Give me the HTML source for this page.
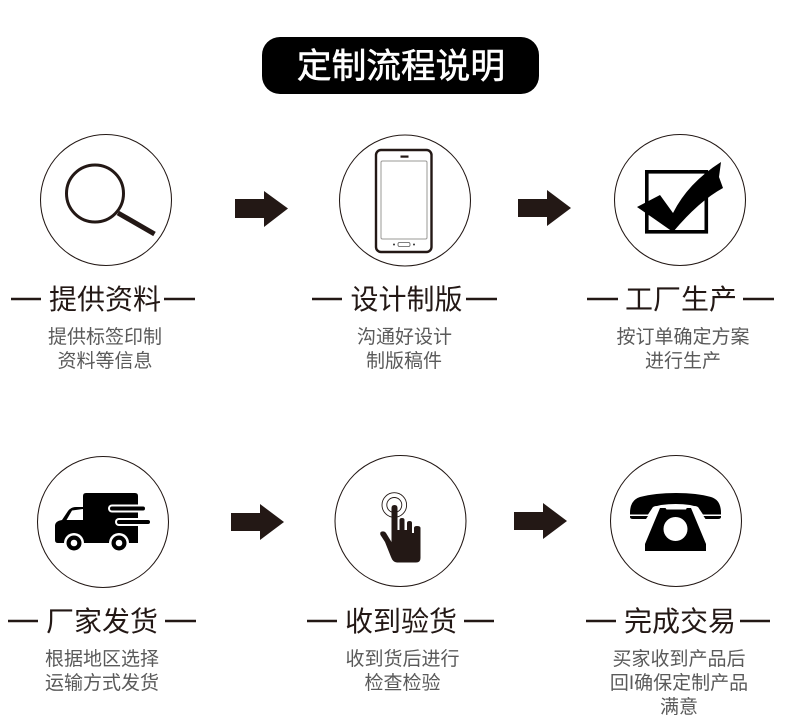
<!DOCTYPE html>
<html><head><meta charset="utf-8"><style>
html,body{margin:0;padding:0;background:#fff}
svg{display:block}
text{font-family:"Liberation Sans","Noto Sans CJK SC",sans-serif;text-anchor:middle}
.h{font-size:28px;fill:#231815;font-weight:400}
.s{font-size:19px;fill:#5a5a5a}
.c{fill:#fff;stroke:#231815;stroke-width:1.05}
.l{stroke:#231815;stroke-width:2.4}
.a{fill:#231815}
</style></head><body>
<svg width="790" height="726" viewBox="0 0 790 726" xmlns="http://www.w3.org/2000/svg">
<rect width="790" height="726" fill="#fff"/>
<rect x="262" y="37" width="277" height="57" rx="18" fill="#000"/>
<text x="401" y="78" font-size="34.7" fill="#fff" stroke="#fff" stroke-width="0.6">定制流程说明</text>

<circle class="c" cx="106" cy="200" r="65.5"/>
<circle class="c" cx="405" cy="200.5" r="65.5"/>
<circle class="c" cx="680" cy="200" r="65.5"/>
<circle class="c" cx="103" cy="522" r="65.5"/>
<circle class="c" cx="400.5" cy="521" r="65.5"/>
<circle class="c" cx="676" cy="521" r="65.5"/>

<polygon class="a" points="235,199 264,199 264,191 288,208.5 264,227 264,218 235,218"/>
<polygon class="a" points="518,199 547,199 547,190 571,208 547,226 547,217 518,217"/>
<polygon class="a" points="231,513 260,513 260,504 284,522 260,540 260,531 231,531"/>
<polygon class="a" points="514,512 543,512 543,503 567,521 543,539 543,530 514,530"/>

<!-- magnifier -->
<circle cx="95" cy="193.5" r="28.5" fill="none" stroke="#231815" stroke-width="3"/>
<line x1="118" y1="213" x2="154.5" y2="234" stroke="#231815" stroke-width="5"/>

<!-- phone -->
<rect x="376" y="150" width="55.5" height="102" rx="5" fill="#fff" stroke="#231815" stroke-width="2.4"/>
<rect x="381" y="161" width="46" height="78" rx="1.5" fill="#fff" stroke="#9a9896" stroke-width="1"/>
<rect x="400.500" y="155.500" width="8" height="2.200" fill="#231815"/>
<rect x="398" y="242.500" width="12" height="4" rx="1.500" fill="#fff" stroke="#555" stroke-width="0.800"/>
<circle cx="394" cy="244.500" r="1" fill="#333"/>
<circle cx="414" cy="244.500" r="1" fill="#333"/>

<!-- check -->
<rect x="646.800" y="171.800" width="59.500" height="60" fill="#fff" stroke="#000" stroke-width="3.600"/>
<path fill="#000" d="M637,207 L660,195 L673,213 Q688,183 721,162 L719,177 L723,188 Q699,201 673,232 L653,218 Z"/>

<!-- truck -->
<path fill="#000" d="M83,496 Q83,493 86,493 H135 Q138,493 138,496 V543 H83 Z"/>
<path fill="#000" d="M83,507 H76 Q71,507 68,511 L62,520 Q55,521 55,526 V540 Q55,543 58,543 H83 Z"/>
<polygon fill="#fff" points="66.500,520 72,510.500 83,509 83,520"/>
<circle cx="74" cy="543" r="10" fill="#fff"/><circle cx="74" cy="543" r="7.500" fill="#000"/><circle cx="74" cy="543" r="3.300" fill="#fff"/>
<circle cx="119" cy="543" r="10" fill="#fff"/><circle cx="119" cy="543" r="7.500" fill="#000"/><circle cx="119" cy="543" r="3.300" fill="#fff"/>
<line x1="112" y1="508.500" x2="143" y2="508.500" stroke="#fff" stroke-width="8" stroke-linecap="round"/>
<line x1="119" y1="522" x2="147" y2="522" stroke="#fff" stroke-width="8" stroke-linecap="round"/>
<line x1="112" y1="508.500" x2="143" y2="508.500" stroke="#000" stroke-width="4" stroke-linecap="round"/>
<line x1="119" y1="522" x2="148" y2="522" stroke="#000" stroke-width="4" stroke-linecap="round"/>

<!-- hand -->
<circle cx="394.300" cy="505" r="12.300" fill="none" stroke="#231815" stroke-width="0.900"/>
<circle cx="394.300" cy="505" r="7.500" fill="none" stroke="#231815" stroke-width="0.900"/>
<path fill="#231815" d="M391.500,508 Q391.500,505 394.500,505 Q397.500,505 397.500,508 V530 L399.500,530 V520 Q399.500,518 402,518 Q404.500,518 404.500,520 V530 L407,530 V523 Q407,521 409.500,521 Q412,521 412,523 V533 L414,533 V528 Q414,526 417,526 Q420.500,526 420.500,528 V558 Q420.500,562.500 416,562.500 H397 Q393,562.500 391,557 L385,542 L380.500,535 Q379.500,532 382,531.500 Q384.500,531 386,533 L391.500,542 Z"/>

<!-- telephone -->
<path fill="#000" d="M630,513 Q630,500 640,497 Q655,493 676,493 Q697,493 711,497 Q721,500 721,513 V514.500 H703 L699,508.500 Q698,506 694,506 L690,505 Q676,503 661,505 L657,506 Q653,506 652,508.500 L648,514.500 H630 Z"/>
<path fill="#000" d="M630,516 H648 L646,519 H633 Q630,519 630,517 Z M703.500,516 H721 V517 Q721,519 718,519 H705.500 Z"/>
<polygon fill="#000" points="660,508 691,508 706,544 706,551 645,551 645,544"/>
<path fill="#fff" d="M664.500,506.500 H687.500 L686,509.500 H666.500 Z"/>
<circle cx="675.500" cy="529" r="12" fill="#fff"/>

<!-- headings -->
<text class="h" x="105" y="309">提供资料</text>
<line class="l" x1="11" y1="299" x2="41" y2="299"/><line class="l" x1="164" y1="299" x2="195" y2="299"/>
<text class="h" x="406.500" y="309">设计制版</text>
<line class="l" x1="312" y1="299" x2="342" y2="299"/><line class="l" x1="466" y1="299" x2="497" y2="299"/>
<text class="h" x="681" y="309">工厂生产</text>
<line class="l" x1="587" y1="299" x2="618" y2="299"/><line class="l" x1="743" y1="299" x2="774" y2="299"/>
<text class="h" x="102" y="631">厂家发货</text>
<line class="l" x1="8" y1="621" x2="38" y2="621"/><line class="l" x1="165" y1="621" x2="196" y2="621"/>
<text class="h" x="401" y="631">收到验货</text>
<line class="l" x1="307" y1="621" x2="337" y2="621"/><line class="l" x1="464" y1="621" x2="494" y2="621"/>
<text class="h" x="680" y="631">完成交易</text>
<line class="l" x1="586" y1="621" x2="616" y2="621"/><line class="l" x1="740" y1="621" x2="770" y2="621"/>

<!-- sub text -->
<text class="s" x="105" y="343">提供标签印制</text>
<text class="s" x="105" y="367">资料等信息</text>
<text class="s" x="404.500" y="343">沟通好设计</text>
<text class="s" x="404" y="367">制版稿件</text>
<text class="s" x="683" y="343">按订单确定方案</text>
<text class="s" x="683" y="367">进行生产</text>
<text class="s" x="102" y="665">根据地区选择</text>
<text class="s" x="102" y="689">运输方式发货</text>
<text class="s" x="402.500" y="665">收到货后进行</text>
<text class="s" x="402.500" y="689">检查检验</text>
<text class="s" x="679" y="665">买家收到产品后</text>
<text class="s" x="679" y="689">回I确保定制产品</text>
<text class="s" x="679" y="713">满意</text>
</svg>
</body></html>
